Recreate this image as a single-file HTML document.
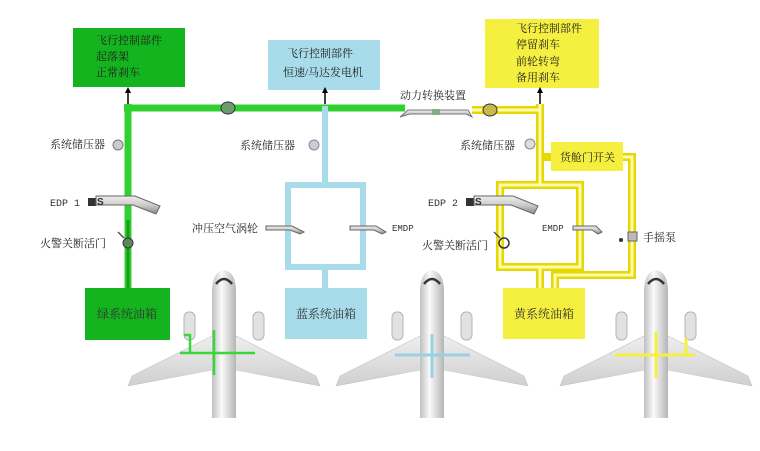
<!DOCTYPE html>
<html><head><meta charset="utf-8"><style>
html,body{margin:0;padding:0;background:#fff;}
svg{display:block;}
text{font-family:"Liberation Serif","Noto Serif CJK SC","Noto Sans CJK SC",serif;font-size:10px;fill:#333;}
.b{font-size:11px;fill:#222;}
</style></head><body>
<svg width="760" height="451" viewBox="0 0 760 451" xmlns="http://www.w3.org/2000/svg">
<defs>
<linearGradient id="fus" x1="0" x2="1"><stop offset="0" stop-color="#c0c0c0"/><stop offset="0.4" stop-color="#fafafa"/><stop offset="1" stop-color="#b5b5b5"/></linearGradient>
<linearGradient id="wing" x1="0" y1="0" x2="0" y2="1"><stop offset="0" stop-color="#f2f2f2"/><stop offset="1" stop-color="#cfcfcf"/></linearGradient>
<linearGradient id="pipe" x1="0" y1="0" x2="0" y2="1"><stop offset="0" stop-color="#eee"/><stop offset="0.5" stop-color="#ccc"/><stop offset="1" stop-color="#888"/></linearGradient>
<g id="plane">
 <path d="M0,58 L-92,104 L-96,114 L-12,98 L12,98 L96,114 L92,104 Z" fill="url(#wing)" stroke="#c4c4c4" stroke-width="0.6"/>
 <rect x="-40" y="40" width="11" height="28" rx="5" fill="#e2e2e2" stroke="#b5b5b5"/>
 <rect x="29" y="40" width="11" height="28" rx="5" fill="#e2e2e2" stroke="#b5b5b5"/>
 <path d="M-12,20 Q-12,0 0,-2 Q12,0 12,20 L12,150 L-12,150 Z" fill="url(#fus)"/>
 <path d="M-8,12 Q0,2 8,12" fill="none" stroke="#334" stroke-width="2.5"/>
</g>
</defs>
<rect width="760" height="451" fill="#fff"/>

<rect x="73" y="28" width="112" height="59" fill="#14b41e"/>
<text class="b" x="96" y="44">飞行控制部件</text><text class="b" x="96" y="60">起落架</text><text class="b" x="96" y="76">正常刹车</text>
<rect x="268" y="40" width="112" height="50" fill="#a8dcea"/>
<text class="b" x="287" y="57">飞行控制部件</text><text class="b" x="283" y="76">恒速/马达发电机</text>
<rect x="485" y="19" width="114" height="69" fill="#f5ef40"/>
<text class="b" x="516" y="32">飞行控制部件</text><text class="b" x="516" y="48">停留刹车</text><text class="b" x="516" y="65">前轮转弯</text><text class="b" x="516" y="81">备用刹车</text>
<rect x="551" y="142" width="72" height="29" fill="#f5ef40"/>
<text class="b" x="560" y="161">货舱门开关</text>

<rect x="85" y="288" width="85" height="52" fill="#14b41e"/><text x="97" y="318" style="font-size:12px">绿系统油箱</text>
<rect x="285" y="288" width="82" height="51" fill="#a8dcea"/><text x="296" y="318" style="font-size:12px">蓝系统油箱</text>
<rect x="503" y="288" width="82" height="51" fill="#f5ef40"/><text x="514" y="318" style="font-size:12px">黄系统油箱</text>

<g stroke="#2fd02f" stroke-width="7" fill="none">
<line x1="128" y1="104" x2="128" y2="288"/>
<line x1="124" y1="108" x2="405" y2="108"/>
</g>
<line x1="128" y1="220" x2="128" y2="288" stroke="#1a9c1a" stroke-width="3"/>
<ellipse cx="228" cy="108" rx="7" ry="6" fill="#6a9b6a" stroke="#333"/>
<path d="M128,104 L128,90" stroke="#000" stroke-width="1.5"/><path d="M125,93 L128,87 L131,93Z" fill="#000"/>
<circle cx="118" cy="145" r="5" fill="#ccc" stroke="#777"/>
<text class="b" x="50" y="148">系统储压器</text>

<g stroke="#a8dcea" stroke-width="6" fill="none">
<line x1="325" y1="106" x2="325" y2="185"/>
<rect x="288" y="185" width="75" height="82"/>
<line x1="325" y1="267" x2="325" y2="288"/>
</g>
<path d="M325,104 L325,90" stroke="#000" stroke-width="1.5"/><path d="M322,93 L325,87 L328,93Z" fill="#000"/>
<circle cx="314" cy="145" r="5" fill="#ccc" stroke="#88a"/>
<text class="b" x="240" y="149">系统储压器</text>

<path d="M400,117 L408,110 L468,110 L472,117 L466,114 L410,114Z" fill="url(#pipe)" stroke="#777"/>
<rect x="432" y="109" width="8" height="6" fill="#8a8"/>
<text class="b" x="400" y="99">动力转换装置</text>

<g stroke="#e6d800" stroke-width="8" fill="none">
<line x1="472" y1="110" x2="540" y2="110"/>
<line x1="540" y1="104" x2="540" y2="185"/>
<rect x="500" y="185" width="80" height="82"/>
<path d="M623,157 L632,157 L632,275 L555,275 L555,288"/>
<line x1="540" y1="267" x2="540" y2="288"/>
<line x1="540" y1="157" x2="551" y2="157"/>
</g>
<g stroke="#fffbb0" stroke-width="3" fill="none">
<line x1="472" y1="110" x2="540" y2="110"/>
<line x1="540" y1="104" x2="540" y2="185"/>
<rect x="500" y="185" width="80" height="82"/>
<path d="M623,157 L632,157 L632,275 L555,275 L555,288"/>
<line x1="540" y1="267" x2="540" y2="288"/>
</g>
<ellipse cx="490" cy="110" rx="7" ry="6" fill="#c9b94a" stroke="#333"/>
<path d="M540,104 L540,90" stroke="#000" stroke-width="1.5"/><path d="M537,93 L540,87 L543,93Z" fill="#000"/>
<circle cx="530" cy="144" r="5" fill="#ddd" stroke="#888"/>
<text class="b" x="460" y="149">系统储压器</text>

<g>
<text x="50" y="206" style="font-family:'Liberation Mono',monospace">EDP 1</text>
<rect x="88" y="198" width="8" height="8" fill="#333"/>
<path d="M96,196 L135,196 L160,206 L156,214 L133,205 L96,205Z" fill="url(#pipe)" stroke="#666"/>
<text x="97" y="205" style="font-weight:bold;font-family:'Liberation Sans'">S</text>
<text x="428" y="206" style="font-family:'Liberation Mono',monospace">EDP 2</text>
<rect x="466" y="198" width="8" height="8" fill="#333"/>
<path d="M474,196 L513,196 L538,206 L534,214 L511,205 L474,205Z" fill="url(#pipe)" stroke="#666"/>
<text x="475" y="205" style="font-weight:bold;font-family:'Liberation Sans'">S</text>
<text class="b" x="192" y="232">冲压空气涡轮</text>
<path d="M266,226 L292,226 L304,232 L300,234 L290,230 L266,230Z" fill="url(#pipe)" stroke="#666"/>
<path d="M350,226 L376,226 L386,232 L382,234 L374,230 L350,230Z" fill="url(#pipe)" stroke="#666"/>
<text x="392" y="231" style="font-family:'Liberation Mono',monospace;font-size:9px">EMDP</text>
<text x="542" y="231" style="font-family:'Liberation Mono',monospace;font-size:9px">EMDP</text>
<path d="M573,226 L596,226 L602,232 L598,234 L592,230 L573,230Z" fill="url(#pipe)" stroke="#666"/>
<rect x="628" y="232" width="9" height="9" fill="#bbb" stroke="#666"/>
<circle cx="621" cy="240" r="2" fill="#333"/>
<text class="b" x="643" y="241">手摇泵</text>
</g>
<circle cx="128" cy="243" r="5" fill="#5a8a5a" stroke="#333"/>
<path d="M118,232 L124,238" stroke="#555" stroke-width="1.5"/>
<text class="b" x="40" y="247">火警关断活门</text>
<circle cx="504" cy="243" r="5" fill="none" stroke="#333" stroke-width="1.5"/>
<path d="M494,232 L500,238" stroke="#555" stroke-width="1.5"/>
<text class="b" x="422" y="249">火警关断活门</text>

<svg x="0" y="0" width="760" height="418" overflow="hidden">
<use href="#plane" transform="translate(224,272)"/>
<use href="#plane" transform="translate(432,272)"/>
<use href="#plane" transform="translate(656,272)"/>
</svg>
<g stroke="#3ad63a" stroke-width="2.5" fill="none">
<line x1="180" y1="353" x2="255" y2="353"/><line x1="214" y1="330" x2="214" y2="375"/>
<path d="M190,353 L190,335 L184,335"/>
</g>
<g stroke="#9ad0e6" stroke-width="3" fill="none">
<line x1="395" y1="355" x2="470" y2="355"/><line x1="432" y1="334" x2="432" y2="378"/>
</g>
<g stroke="#f5ef40" stroke-width="3" fill="none">
<line x1="615" y1="355" x2="695" y2="355"/><line x1="656" y1="332" x2="656" y2="378"/>
<path d="M686,355 L686,338"/>
</g>
</svg>
</body></html>
